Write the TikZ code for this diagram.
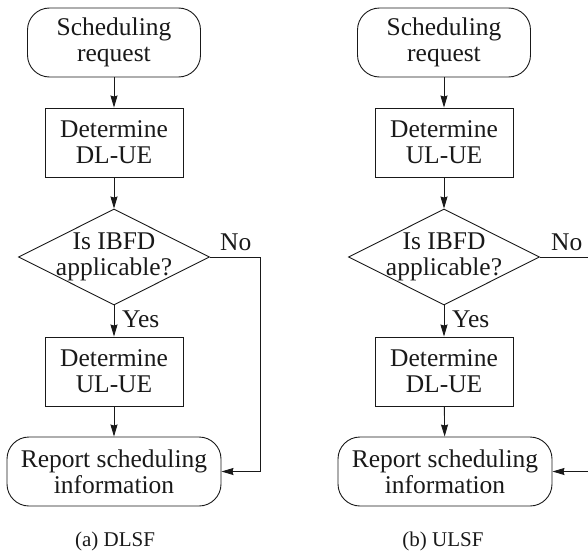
\documentclass[tikz,border=0pt]{standalone}
\usepackage{fontspec}
\setmainfont{Liberation Serif}
\usetikzlibrary{shapes.geometric,arrows.meta}
\begin{document}
\begin{tikzpicture}[x=1pt,y=-1pt,
  every node/.style={font=\fontsize{25.5}{26}\selectfont, text=black!90},
  termbox/.style={draw=black!90, line width=0.9pt, rounded corners=22pt, minimum height=69pt, inner sep=0pt, align=center},
  procbox/.style={draw=black!90, line width=0.9pt, minimum width=138pt, minimum height=69pt, inner sep=0pt, align=center},
  decbox/.style={draw=black!90, line width=0.9pt, diamond, minimum width=191pt, minimum height=96pt, inner sep=0pt},
  flow/.style={draw=black!90, line width=0.9pt, -{Stealth[length=12pt,width=7pt,inset=1pt]}},
  lbl/.style={anchor=base west, inner sep=0pt},
  captext/.style={font=\fontsize{21}{24}\selectfont, inner sep=0pt}
]
\useasboundingbox (0,0) rectangle (588,554);
\clip (0,0) rectangle (588,554);

% ---------- (a) DLSF ----------
\node[termbox, minimum width=173pt] (s1) at (114,42.5) {Scheduling\\request};
\node[procbox] (b1) at (114,142.5) {Determine\\DL-UE};
\node[decbox] (d1) at (114,257) {};
\node[align=center, inner sep=0pt] (t1) at (114,257) {Is IBFD\\applicable?};
\node[procbox] (c1) at (114,371.5) {Determine\\UL-UE};
\node[termbox, minimum width=214pt] (r1) at (114,471.5) {Report scheduling\\information};
\coordinate (n1a) at (260,257);
\coordinate (n1b) at (260,471.5);
\node[lbl] (no1) at (220,250) {No};
\node[lbl] (yes1) at (122,327) {Yes};
\node[captext] (ca) at (115,541) {(a) DLSF};

\draw[flow] (s1) -- (b1);
\draw[flow] (b1) -- (d1);
\draw[flow] (d1) -- (c1);
\draw[flow] (c1) -- (r1);
\draw[flow] (d1.east) -- (n1a) -- (n1b) -- (r1.east);

% ---------- (b) ULSF ----------
\node[termbox, minimum width=173pt] (s2) at (444,42.5) {Scheduling\\request};
\node[procbox] (b2) at (444,142.5) {Determine\\UL-UE};
\node[decbox] (d2) at (444,257) {};
\node[align=center, inner sep=0pt] (t2) at (444,257) {Is IBFD\\applicable?};
\node[procbox] (c2) at (444,371.5) {Determine\\DL-UE};
\node[termbox, minimum width=214pt] (r2) at (445,471.5) {Report scheduling\\information};
\coordinate (n2a) at (591,257);
\coordinate (n2b) at (591,471.5);
\node[lbl] (no2) at (551,250) {No};
\node[lbl] (yes2) at (452,327) {Yes};
\node[captext] (cb) at (443,541) {(b) ULSF};

\draw[flow] (s2) -- (b2);
\draw[flow] (b2) -- (d2);
\draw[flow] (d2) -- (c2);
\draw[flow] (c2) -- (r2);
\draw[flow] (d2.east) -- (n2a) -- (n2b) -- (r2.east);
\end{tikzpicture}
\end{document}
